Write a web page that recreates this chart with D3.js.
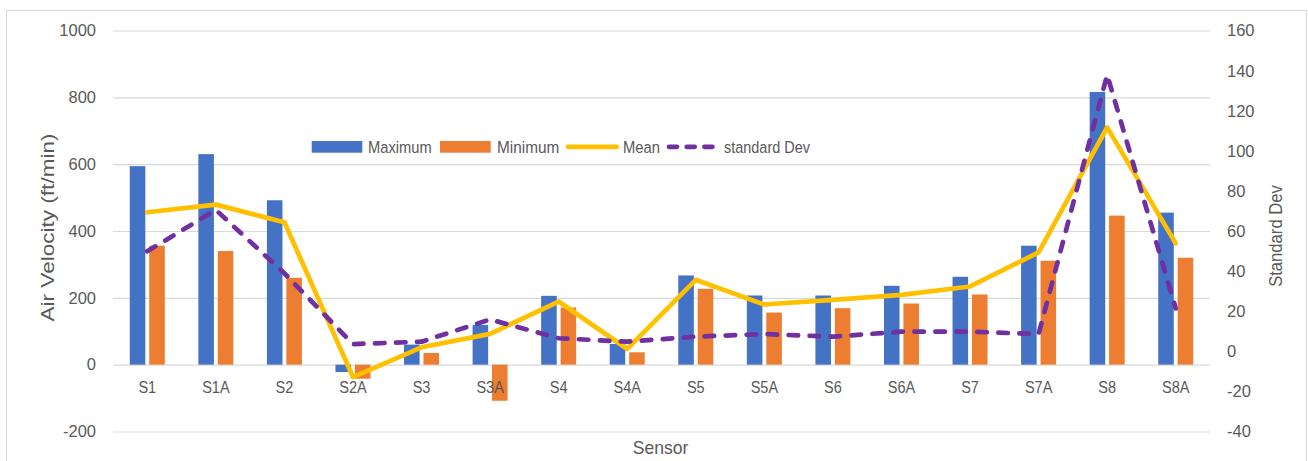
<!DOCTYPE html>
<html>
<head>
<meta charset="utf-8">
<script src="https://cdn.jsdelivr.net/npm/d3@7"></script>
<style>
  html, body { margin: 0; padding: 0; background: #fff; }
  svg { display: block; font-family: "Liberation Sans", Arial, sans-serif; }
  .tick text { fill: #595959; }
</style>
</head>
<body>
<svg id="chart" width="1308" height="461"></svg>
<script>
// Air velocity readings per sensor (ft/min) and their standard deviation
const categories = ["S1", "S1A", "S2", "S2A", "S3", "S3A", "S4", "S4A",
                    "S5", "S5A", "S6", "S6A", "S7", "S7A", "S8", "S8A"];
const maximum = [594, 630, 492, -22, 60, 119, 206, 62, 267, 207, 207, 236, 263, 356, 816, 455];
const minimum = [356, 340, 260, -42, 35, -108, 171, 37, 227, 156, 169, 183, 210, 311, 446, 320];
const mean    = [456, 479, 426, -37, 52, 92, 189, 47, 254, 180, 194, 209, 234, 336, 710, 363];
const stdDev  = [50, 70.6, 39, 3.7, 4.9, 16, 6.6, 4.9, 7.4, 8.7, 7.4, 9.9, 9.9, 8.7, 138, 21.5];

const leftTicks  = [-200, 0, 200, 400, 600, 800, 1000];
const rightTicks = [-40, -20, 0, 20, 40, 60, 80, 100, 120, 140, 160];
const barSeries = ["Maximum", "Minimum"];

const COLORS = { Maximum: "#4472C4", Minimum: "#ED7D31", mean: "#FFC000", std: "#7030A0" };
const TEXT = "#595959";
const GRID = "#d9d9d9";

const svg = d3.select("#chart");

// chart area frame
svg.append("rect")
  .attr("x", 6.5).attr("y", 10.5).attr("width", 1300).attr("height", 470)
  .attr("fill", "#fff").attr("stroke", GRID).attr("stroke-width", 1);

const plot = { left: 113, right: 1210, top: 30.5, bottom: 431.5 };

const x0 = d3.scaleBand().domain(categories).range([plot.left, plot.right]);
const groupHalf = 17.5;
const x1 = d3.scaleBand().domain(barSeries).range([-groupHalf, groupHalf]).paddingInner(0.2);
const center = c => x0(c) + x0.bandwidth() / 2;

const yL = d3.scaleLinear().domain([-200, 1000]).range([plot.bottom, plot.top]);
const yR = d3.scaleLinear().domain([-40, 160]).range([431.7, 30.7]);

// left axis with gridlines
const gL = svg.append("g")
  .attr("transform", `translate(${plot.left},0)`)
  .call(d3.axisLeft(yL).tickValues(leftTicks)
    .tickSize(-(plot.right - plot.left)).tickPadding(17).tickFormat(d => String(d)));
gL.select(".domain").remove();
gL.selectAll(".tick line").attr("stroke", GRID).attr("stroke-width", 1.1);
gL.selectAll(".tick text").attr("font-size", 16.5);

// right axis (labels only)
const gR = svg.append("g")
  .attr("transform", `translate(${plot.right},0)`)
  .call(d3.axisRight(yR).tickValues(rightTicks)
    .tickSize(0).tickPadding(17).tickFormat(d => String(d)));
gR.select(".domain").remove();
gR.selectAll(".tick text").attr("font-size", 16.5);

// bars
const rows = categories.map((c, i) => ({ c, Maximum: maximum[i], Minimum: minimum[i] }));
svg.append("g").selectAll("g")
  .data(rows).join("g")
  .attr("transform", d => `translate(${center(d.c)},0)`)
  .selectAll("rect")
  .data(d => barSeries.map(k => ({ k, v: d[k] })))
  .join("rect")
  .attr("x", d => x1(d.k))
  .attr("width", x1.bandwidth())
  .attr("y", d => yL(Math.max(0, d.v)))
  .attr("height", d => Math.abs(yL(d.v) - yL(0)))
  .attr("fill", d => COLORS[d.k]);

// category labels along the zero line (slightly condensed lettering)
const gX = svg.append("g")
  .attr("transform", `translate(0,${yL(0)})`)
  .call(d3.axisBottom(x0).tickSize(0).tickPadding(17));
gX.select(".domain").remove();
gX.selectAll(".tick text").attr("font-size", 16.5).attr("transform", "scale(0.88,1)");

// mean line (primary axis)
const meanLine = d3.line().x((d, i) => center(categories[i])).y(d => yL(d));
svg.append("path")
  .datum(mean)
  .attr("d", meanLine)
  .attr("fill", "none").attr("stroke", COLORS.mean)
  .attr("stroke-width", 4.7).attr("stroke-linejoin", "round").attr("stroke-linecap", "round");

// standard deviation line (secondary axis)
const stdLine = d3.line().x((d, i) => center(categories[i])).y(d => yR(d));
svg.append("path")
  .datum(stdDev)
  .attr("d", stdLine)
  .attr("fill", "none").attr("stroke", COLORS.std)
  .attr("stroke-width", 4.7).attr("stroke-linejoin", "round").attr("stroke-linecap", "round")
  .attr("stroke-dasharray", "9.5 11.5");

// axis titles
svg.append("text")
  .attr("transform", "translate(54,227.5) rotate(-90)")
  .attr("text-anchor", "middle").attr("fill", TEXT)
  .attr("font-size", 18).attr("textLength", 188).attr("lengthAdjust", "spacingAndGlyphs")
  .text("Air Velocity (ft/min)");

svg.append("text")
  .attr("transform", "translate(1281.5,236) rotate(-90)")
  .attr("text-anchor", "middle").attr("fill", TEXT)
  .attr("font-size", 17.5).attr("textLength", 101.7).attr("lengthAdjust", "spacingAndGlyphs")
  .text("Standard Dev");

svg.append("text")
  .attr("x", 660.5).attr("y", 454)
  .attr("text-anchor", "middle").attr("fill", TEXT)
  .attr("font-size", 18.5).attr("textLength", 55.6).attr("lengthAdjust", "spacingAndGlyphs")
  .text("Sensor");

// legend
const legend = svg.append("g").attr("font-size", 16.3).attr("fill", TEXT);
const legY = 146.8, legBase = 152.7;
const legText = (x, len, label) => legend.append("text")
  .attr("x", x).attr("y", legBase)
  .attr("textLength", len).attr("lengthAdjust", "spacingAndGlyphs")
  .text(label);
legend.append("rect").attr("x", 311.7).attr("y", 141).attr("width", 50.6).attr("height", 11.7)
  .attr("fill", COLORS.Maximum);
legText(368, 63.7, "Maximum");
legend.append("rect").attr("x", 440).attr("y", 141).attr("width", 50.7).attr("height", 11.7)
  .attr("fill", COLORS.Minimum);
legText(497, 62.3, "Minimum");
legend.append("line").attr("x1", 568).attr("x2", 616.7).attr("y1", legY).attr("y2", legY)
  .attr("stroke", COLORS.mean).attr("stroke-width", 4.7).attr("stroke-linecap", "round");
legText(623, 37, "Mean");
legend.append("line").attr("x1", 669).attr("x2", 713).attr("y1", legY).attr("y2", legY)
  .attr("stroke", COLORS.std).attr("stroke-width", 4.7).attr("stroke-linecap", "round")
  .attr("stroke-dasharray", "8 9.7");
legText(724, 86, "standard Dev");
</script>
</body>
</html>
